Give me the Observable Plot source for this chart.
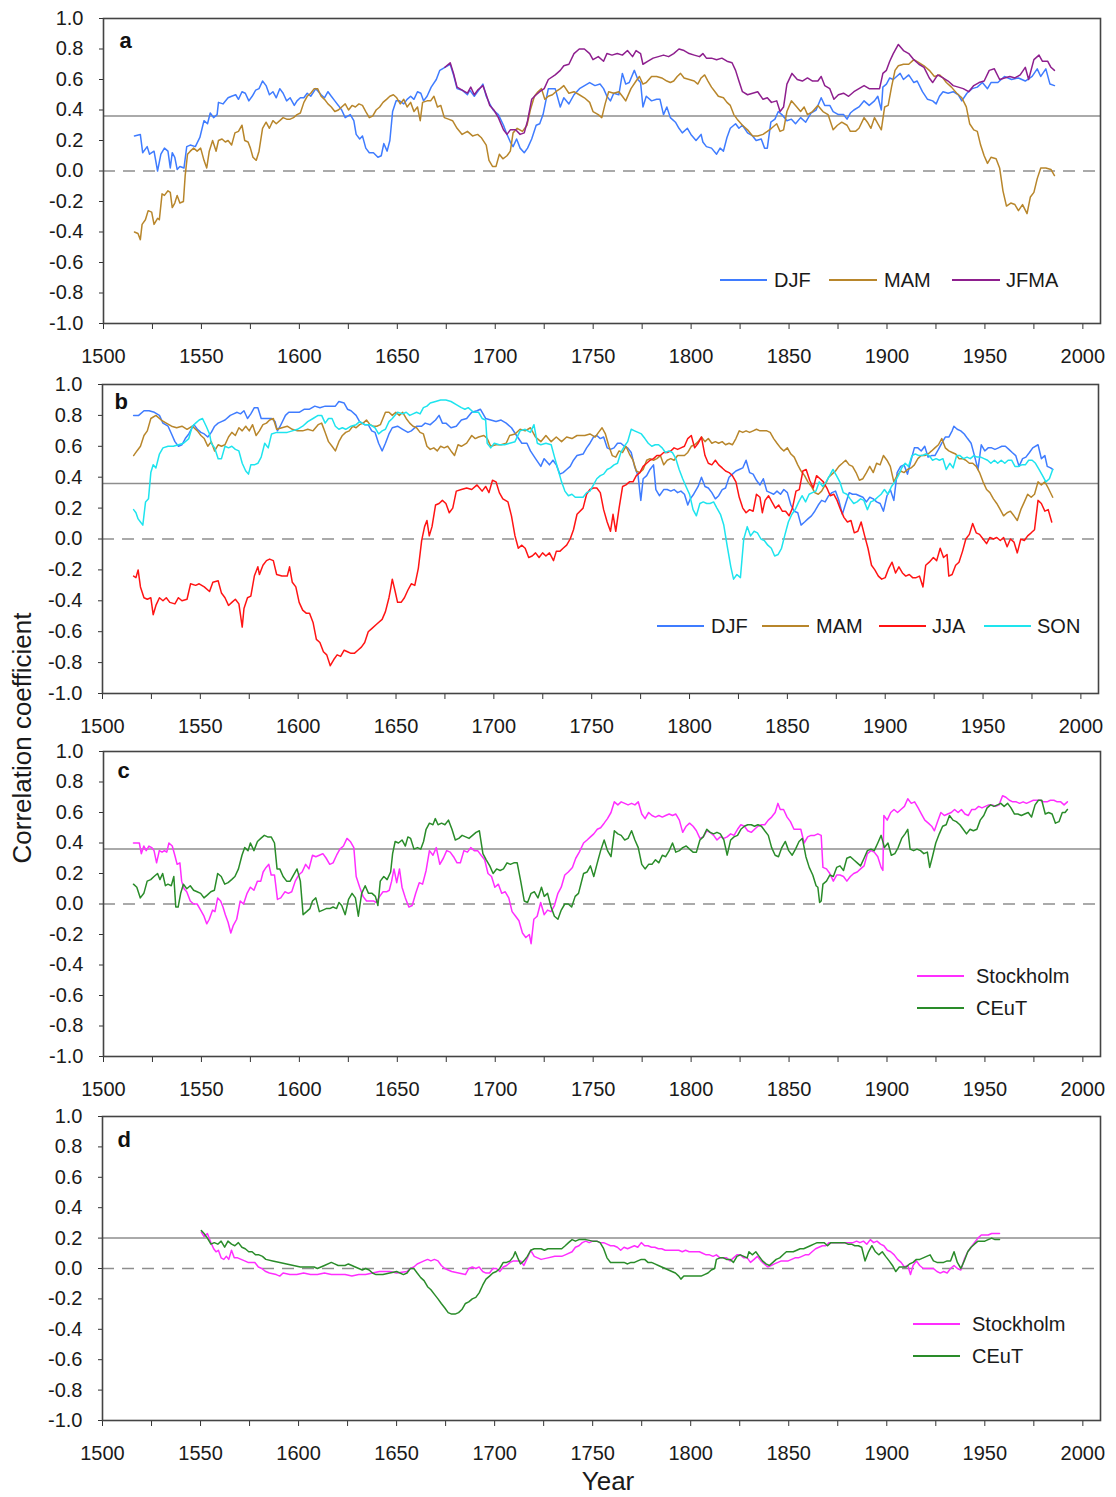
<!DOCTYPE html>
<html><head><meta charset="utf-8">
<script src="https://cdn.jsdelivr.net/npm/d3@7"></script>
<script src="https://cdn.jsdelivr.net/npm/@observablehq/plot@0.6"></script>
<style>
body{margin:0;background:#fff;font-family:"Liberation Sans",Arial,sans-serif;}
#wrap{position:relative;width:1116px;height:1497px;overflow:hidden;background:#fff;}
#wrap svg{position:absolute;left:0;overflow:visible;}
.leg{position:absolute;font-size:20px;line-height:20px;color:#1a1a1a;white-space:nowrap;}
.sw{position:absolute;height:2px;}
.ttl{position:absolute;font-size:26px;line-height:26px;color:#1a1a1a;white-space:nowrap;}
</style></head>
<body><div id="wrap"></div>
<script>
// ---------- tick values ----------
const xTicks = [1500,1525,1550,1575,1600,1625,1650,1675,1700,1725,1750,1775,1800,1825,1850,1875,1900,1925,1950,1975,2000];
const xLabels = [1500,1550,1600,1650,1700,1750,1800,1850,1900,1950,2000];
const yTicks = [-1,-0.8,-0.6,-0.4,-0.2,0,0.2,0.4,0.6,0.8,1];
const thresholds = [0.36, 0.36, 0.36, 0.2];

// ---------- panel a ----------
const djfA = [[1515.8,0.23],[1518.8,0.24],[1520,0.12],[1522.3,0.16],[1523.5,0.11],[1525.8,0.13],[1527.6,0.0],[1529.3,0.11],[1531.1,0.15],[1532.9,0.13],[1534.1,0.02],[1535.1,0.12],[1536.4,0.09],[1537.6,0.01],[1539,0.03],[1541.1,0.02],[1542.5,0.16],[1544.3,0.17],[1546.9,0.16],[1549.2,0.22],[1551.3,0.33],[1553.1,0.31],[1554.5,0.38],[1556.2,0.35],[1558,0.37],[1558.7,0.45],[1561,0.44],[1563.6,0.48],[1565.4,0.49],[1567.5,0.50],[1568.9,0.47],[1570.7,0.52],[1572.4,0.51],[1574.2,0.46],[1575.9,0.49],[1577.7,0.53],[1579.4,0.54],[1581.2,0.59],[1583,0.56],[1584.7,0.50],[1586.5,0.52],[1588.2,0.48],[1590,0.54],[1591.7,0.51],[1593.5,0.46],[1595.3,0.48],[1597.4,0.43],[1598.8,0.46],[1600.5,0.48],[1602.3,0.48],[1604,0.51],[1605.8,0.49],[1608.4,0.54],[1611.1,0.50],[1612.8,0.48],[1614.6,0.52],[1616.3,0.49],[1618.1,0.46],[1619.9,0.43],[1621.6,0.40],[1623.4,0.35],[1626,0.37],[1627.8,0.33],[1629,0.24],[1630.8,0.21],[1632.2,0.23],[1633.9,0.15],[1635.7,0.12],[1637.8,0.12],[1640.1,0.09],[1641.8,0.10],[1643.1,0.18],[1644.8,0.13],[1646.2,0.20],[1647.6,0.39],[1649.4,0.46],[1651.1,0.46],[1653.3,0.44],[1655,0.47],[1656.8,0.49],[1658.5,0.47],[1660.3,0.52],[1662,0.51],[1663.4,0.46],[1665.2,0.49],[1667.3,0.55],[1669.9,0.60],[1671.7,0.66],[1674.3,0.68],[1677,0.70],[1678.7,0.63],[1680.5,0.54],[1683.1,0.53],[1685.8,0.50],[1687,0.53],[1689.3,0.49],[1691.6,0.53],[1693.7,0.57],[1695.4,0.49],[1697.2,0.44],[1698.9,0.40],[1701.6,0.37],[1704.2,0.30],[1706,0.24],[1707.7,0.19],[1709.1,0.16],[1710.9,0.21],[1712.7,0.15],[1714.8,0.12],[1716.5,0.15],[1718.6,0.21],[1720.9,0.30],[1722.7,0.31],[1724.4,0.37],[1727.1,0.54],[1730.6,0.54],[1733.2,0.42],[1735,0.48],[1737.6,0.44],[1740.2,0.50],[1743,0.54],[1745.6,0.56],[1748.2,0.58],[1750.9,0.56],[1753.5,0.57],[1755.3,0.54],[1757,0.49],[1758.8,0.46],[1760.5,0.51],[1763.1,0.50],[1764.9,0.64],[1766.6,0.57],[1768.4,0.58],[1771,0.66],[1772.8,0.60],[1774.2,0.58],[1775.4,0.42],[1777.1,0.49],[1779.8,0.46],[1782.4,0.47],[1784.1,0.47],[1785.9,0.37],[1787.6,0.42],[1789.4,0.35],[1792,0.32],[1793.8,0.28],[1795.5,0.25],[1798.1,0.28],[1799.9,0.24],[1802.5,0.20],[1805.1,0.24],[1806,0.19],[1807.8,0.16],[1810.4,0.15],[1813,0.11],[1814.8,0.15],[1816.5,0.13],[1818.3,0.22],[1820,0.28],[1822.7,0.31],[1824.4,0.28],[1826.2,0.30],[1828.8,0.25],[1831.4,0.23],[1833.2,0.20],[1835.8,0.21],[1837.5,0.15],[1838.9,0.15],[1840.7,0.32],[1842.8,0.34],[1844.5,0.39],[1846.3,0.37],[1848.9,0.33],[1851.2,0.34],[1853.3,0.31],[1855.9,0.35],[1858.5,0.32],[1861.2,0.38],[1863.8,0.40],[1866.4,0.48],[1868.2,0.43],[1870.8,0.43],[1872.5,0.39],[1875.2,0.37],[1877.8,0.37],[1879.6,0.34],[1881.3,0.38],[1883.1,0.40],[1885.7,0.42],[1888.3,0.46],[1890.9,0.43],[1893.6,0.46],[1895.3,0.49],[1897.1,0.40],[1897.9,0.55],[1899.7,0.57],[1901.4,0.61],[1903.2,0.60],[1904.9,0.62],[1906.7,0.64],[1908.4,0.60],[1911.1,0.63],[1913.7,0.58],[1915.4,0.59],[1918.1,0.52],[1920.7,0.47],[1923.3,0.46],[1925.1,0.44],[1926.8,0.49],[1928.6,0.52],[1931.2,0.51],[1933.8,0.52],[1936.4,0.50],[1938.2,0.46],[1940.8,0.51],[1943.5,0.54],[1946.1,0.55],[1948.7,0.58],[1951.3,0.54],[1953.1,0.58],[1956.6,0.58],[1960,0.62],[1963.6,0.60],[1967.1,0.61],[1970.6,0.59],[1974.1,0.62],[1976.7,0.67],[1978.5,0.62],[1981.1,0.67],[1983.2,0.57],[1985.5,0.56]];

const mamA = [[1515.8,-0.40],[1517.6,-0.41],[1518.8,-0.45],[1519.7,-0.35],[1521.4,-0.32],[1522.8,-0.26],[1524.6,-0.27],[1525.8,-0.35],[1527.6,-0.31],[1528.5,-0.32],[1529.9,-0.15],[1531.1,-0.16],[1532.9,-0.13],[1534.1,-0.14],[1535.1,-0.24],[1536.4,-0.21],[1537.6,-0.16],[1539,-0.21],[1540.8,-0.20],[1541.7,-0.03],[1542.9,0.11],[1544.3,0.13],[1546,0.15],[1547.8,0.13],[1549.6,0.15],[1551.3,0.07],[1552.7,0.02],[1554,0.13],[1555.7,0.20],[1557.5,0.13],[1558.7,0.20],[1560.5,0.21],[1562.2,0.19],[1563.6,0.20],[1565.4,0.17],[1567.1,0.25],[1568.9,0.26],[1570.7,0.30],[1572.1,0.20],[1573.8,0.19],[1575,0.15],[1576.3,0.09],[1578,0.07],[1579.4,0.13],[1581.2,0.28],[1583,0.32],[1584.7,0.28],[1586.5,0.33],[1588.2,0.31],[1590,0.33],[1591.7,0.35],[1593.5,0.34],[1595.3,0.34],[1597,0.35],[1598.8,0.37],[1600.5,0.38],[1602.3,0.45],[1604,0.49],[1605.8,0.51],[1607.6,0.54],[1609.3,0.54],[1611.1,0.49],[1612.8,0.47],[1614.6,0.44],[1616.3,0.42],[1618.1,0.39],[1619.9,0.40],[1621.6,0.42],[1623.4,0.44],[1625.1,0.40],[1626.9,0.43],[1628.6,0.42],[1630.4,0.44],[1632.2,0.43],[1633.9,0.39],[1635.7,0.35],[1637.4,0.36],[1639.2,0.40],[1641,0.42],[1642.7,0.45],[1644.5,0.47],[1646.2,0.49],[1648,0.50],[1649.7,0.48],[1651.5,0.44],[1653.3,0.47],[1655,0.42],[1656.8,0.45],[1658.5,0.39],[1660.3,0.42],[1661.7,0.33],[1662.9,0.45],[1665.2,0.46],[1667,0.46],[1668.7,0.49],[1670.5,0.42],[1672.2,0.43],[1674,0.35],[1676.1,0.34],[1678.2,0.33],[1680.5,0.28],[1683.1,0.24],[1685.8,0.26],[1688.4,0.23],[1691,0.24],[1692.8,0.22],[1695.4,0.17],[1696.8,0.07],[1698.6,0.03],[1700.4,0.03],[1702.1,0.11],[1703.9,0.08],[1706,0.10],[1707.7,0.13],[1709.1,0.25],[1711.2,0.28],[1713.9,0.26],[1716.2,0.30],[1717.9,0.40],[1720,0.49],[1721.8,0.52],[1723.6,0.54],[1725.3,0.47],[1727.1,0.49],[1729.2,0.50],[1730.9,0.52],[1733.2,0.54],[1735,0.56],[1737.6,0.51],[1740.2,0.52],[1742.9,0.50],[1745.5,0.48],[1748.2,0.45],[1749.9,0.39],[1752.6,0.37],[1754.4,0.35],[1756.1,0.44],[1757.9,0.52],[1760.5,0.51],[1763.1,0.52],[1764.9,0.49],[1766.6,0.46],[1769.3,0.54],[1771.9,0.59],[1773.6,0.62],[1775.4,0.57],[1777.1,0.58],[1779.8,0.62],[1782.4,0.62],[1785,0.61],[1787.6,0.59],[1789.4,0.58],[1791.1,0.59],[1792.9,0.62],[1794.6,0.64],[1796.4,0.61],[1799,0.60],[1801.6,0.59],[1803.4,0.57],[1805.1,0.61],[1806.9,0.63],[1808.6,0.59],[1810.4,0.55],[1812.2,0.52],[1813.9,0.49],[1816.5,0.48],[1818.3,0.45],[1820,0.43],[1821.8,0.37],[1823.5,0.34],[1826.2,0.30],[1828.8,0.27],[1831.4,0.23],[1834,0.23],[1836.7,0.24],[1838.9,0.26],[1841,0.28],[1843.7,0.31],[1845.4,0.26],[1847.2,0.27],[1848.9,0.39],[1851.2,0.46],[1853.3,0.43],[1855.9,0.39],[1857.7,0.42],[1859.4,0.37],[1862,0.39],[1864.7,0.43],[1867.3,0.39],[1869.9,0.37],[1872.5,0.27],[1874.7,0.30],[1876.9,0.32],[1879.6,0.30],[1881.3,0.26],[1883.9,0.26],[1885.7,0.28],[1888.3,0.35],[1890,0.32],[1891.8,0.28],[1893.6,0.35],[1895.3,0.31],[1897.1,0.27],[1898.8,0.42],[1900.6,0.43],[1902.3,0.55],[1904.1,0.66],[1905.8,0.69],[1908.4,0.70],[1911.1,0.70],[1913.7,0.73],[1916.3,0.71],[1918.9,0.69],[1921.6,0.66],[1924.2,0.62],[1926.8,0.63],[1928.6,0.61],[1930.3,0.58],[1932.9,0.55],[1935.6,0.51],[1938.2,0.48],[1940.5,0.42],[1942.2,0.31],[1944.3,0.27],[1946.1,0.26],[1947.8,0.17],[1949.6,0.10],[1951.3,0.05],[1953.1,0.09],[1955.7,0.08],[1957.5,0.02],[1959.2,-0.13],[1961,-0.23],[1963.2,-0.21],[1965.3,-0.22],[1967.1,-0.26],[1969.2,-0.22],[1971.5,-0.28],[1973.2,-0.17],[1975,-0.14],[1976.7,-0.05],[1978.5,0.02],[1981.1,0.02],[1983.7,0.01],[1985.5,-0.03]];

const jfmaA = [[1674.3,0.68],[1677,0.71],[1678.7,0.64],[1680.5,0.55],[1683.1,0.53],[1685.8,0.51],[1687.5,0.55],[1689.3,0.50],[1691,0.53],[1693.7,0.56],[1695.4,0.50],[1697.2,0.43],[1699.3,0.40],[1701.6,0.35],[1704.2,0.27],[1706,0.24],[1707.7,0.27],[1710.4,0.27],[1712.7,0.24],[1714.8,0.25],[1716.5,0.33],[1718.6,0.47],[1720.9,0.50],[1722.7,0.52],[1725,0.54],[1727.1,0.60],[1730.6,0.63],[1733.2,0.66],[1735,0.69],[1737.6,0.70],[1740.2,0.77],[1742.9,0.80],[1745.5,0.80],[1748.2,0.77],[1749.9,0.73],[1752.6,0.75],[1755.3,0.72],[1757,0.77],[1759.6,0.76],[1762.3,0.77],[1764.9,0.76],[1767.5,0.79],[1770.1,0.75],[1771.9,0.79],[1774.2,0.77],[1775.4,0.70],[1778,0.72],[1780.6,0.74],[1783.3,0.75],[1785.9,0.76],[1788.5,0.75],[1791.1,0.77],[1793.8,0.80],[1796.4,0.79],[1799,0.77],[1801.6,0.76],[1804.3,0.75],[1806,0.77],[1807.8,0.74],[1810.4,0.74],[1813,0.73],[1815.7,0.74],[1818.3,0.72],[1820.9,0.71],[1822.7,0.66],[1824.4,0.59],[1826.2,0.52],[1828.8,0.50],[1831.4,0.51],[1834,0.52],[1836.7,0.47],[1838.9,0.48],[1841,0.45],[1843.7,0.46],[1845.4,0.39],[1847.2,0.42],[1848.9,0.57],[1851.5,0.64],[1854.2,0.60],[1856.8,0.59],[1859.4,0.61],[1862,0.59],[1864.7,0.59],[1866.4,0.62],[1868.2,0.56],[1870.8,0.54],[1872.9,0.47],[1875.2,0.50],[1877.8,0.51],[1880.4,0.49],[1883.1,0.52],[1885.7,0.54],[1888.3,0.56],[1890.9,0.54],[1893.6,0.54],[1896.2,0.54],[1897.9,0.64],[1899.7,0.66],[1901.4,0.72],[1903.2,0.77],[1905.8,0.83],[1908.4,0.79],[1911.1,0.77],[1913.7,0.73],[1916.3,0.70],[1918.9,0.68],[1921.6,0.61],[1923.3,0.58],[1925.9,0.63],[1928.6,0.61],[1931.2,0.59],[1933.8,0.56],[1936.4,0.55],[1938.9,0.54],[1941.7,0.52],[1944.3,0.56],[1947,0.58],[1949.6,0.59],[1952.2,0.66],[1954.8,0.67],[1957.5,0.60],[1960,0.61],[1962.7,0.62],[1965.3,0.61],[1968,0.63],[1970.6,0.68],[1972.3,0.60],[1975,0.73],[1977.6,0.76],[1979.3,0.72],[1982,0.72],[1983.7,0.68],[1985.5,0.66]];

// ---------- panel b ----------
const djfB = [[1515.9,0.80],[1518.5,0.80],[1521.2,0.83],[1523.8,0.83],[1526.5,0.82],[1529.1,0.80],[1530.9,0.75],[1533.5,0.73],[1535.3,0.68],[1537,0.63],[1538.8,0.60],[1540.6,0.61],[1542.3,0.65],[1544.1,0.68],[1546.7,0.74],[1548.5,0.71],[1550.3,0.69],[1552,0.68],[1553.8,0.66],[1555.6,0.69],[1557.3,0.73],[1559.1,0.75],[1560.8,0.76],[1562.6,0.77],[1565.3,0.80],[1567,0.81],[1568.8,0.82],[1570.5,0.81],[1572.3,0.83],[1574.1,0.78],[1575.8,0.81],[1577.6,0.85],[1579.4,0.85],[1581.1,0.78],[1583.8,0.78],[1586.4,0.78],[1588.2,0.76],[1589.4,0.70],[1590.8,0.73],[1593.5,0.80],[1595.2,0.82],[1597.9,0.82],[1600.5,0.82],[1603.2,0.84],[1605.8,0.84],[1608.5,0.86],[1611.1,0.85],[1613.8,0.86],[1616.4,0.86],[1619,0.86],[1620.8,0.89],[1623.5,0.88],[1625.2,0.84],[1627,0.83],[1629.6,0.80],[1631.4,0.76],[1634,0.74],[1635.8,0.74],[1637.6,0.70],[1639.3,0.69],[1641.1,0.62],[1642.9,0.57],[1644.6,0.62],[1646.4,0.68],[1648.1,0.72],[1650.8,0.73],[1653.4,0.71],[1656.1,0.69],[1657.8,0.70],[1660.5,0.73],[1663.1,0.73],[1664.9,0.75],[1667.5,0.74],[1670.2,0.77],[1672,0.80],[1673.7,0.75],[1675.5,0.75],[1678.1,0.72],[1680.8,0.73],[1683.4,0.77],[1686.1,0.78],[1688.7,0.82],[1691.4,0.83],[1693.1,0.84],[1695.8,0.78],[1698.4,0.77],[1701.1,0.76],[1703.7,0.77],[1706.3,0.75],[1709,0.72],[1711.6,0.67],[1714.3,0.62],[1716.9,0.62],[1718.7,0.57],[1721.3,0.52],[1724,0.47],[1725.7,0.52],[1728.4,0.48],[1730.2,0.51],[1731.9,0.48],[1733.7,0.42],[1735.4,0.43],[1737.2,0.45],[1739,0.47],[1740.7,0.51],[1742.5,0.54],[1745.6,0.55],[1747.4,0.59],[1749.1,0.62],[1750.9,0.66],[1752.6,0.67],[1754.4,0.65],[1756.1,0.66],[1757.9,0.59],[1759.6,0.58],[1761.4,0.59],[1763.2,0.62],[1764.9,0.62],[1766.7,0.60],[1768.4,0.59],[1770.2,0.56],[1771.9,0.47],[1773.7,0.41],[1775.1,0.25],[1776.3,0.39],[1778.1,0.41],[1779.8,0.45],[1781.6,0.48],[1782.8,0.32],[1784.6,0.28],[1786.8,0.32],[1788.6,0.32],[1790.4,0.31],[1792.1,0.32],[1793.9,0.30],[1795.6,0.31],[1797.4,0.29],[1799.1,0.22],[1800.4,0.26],[1802.1,0.29],[1804.4,0.34],[1806.1,0.40],[1807.9,0.34],[1809.6,0.33],[1811.4,0.30],[1813.2,0.26],[1814.9,0.28],[1816.7,0.32],[1818.4,0.33],[1820.2,0.40],[1821.9,0.42],[1823.7,0.44],[1825.4,0.45],[1827.2,0.46],[1828.9,0.51],[1830.7,0.43],[1832.5,0.42],[1834.2,0.38],[1836,0.35],[1837.7,0.39],[1839.5,0.31],[1841.2,0.30],[1843,0.29],[1844.7,0.31],[1846.5,0.29],[1848.2,0.32],[1850,0.30],[1851.8,0.22],[1853.5,0.18],[1855.3,0.17],[1857,0.09],[1858.8,0.11],[1860.5,0.13],[1862.3,0.15],[1864,0.18],[1865.8,0.22],[1867.5,0.25],[1869.3,0.24],[1871.1,0.28],[1872.8,0.30],[1874.6,0.31],[1876.3,0.25],[1878.1,0.16],[1879.8,0.23],[1881.6,0.30],[1883.3,0.29],[1885.1,0.29],[1886.8,0.28],[1888.6,0.27],[1890.4,0.24],[1892.1,0.27],[1893.9,0.26],[1895.6,0.24],[1897.4,0.23],[1899.1,0.18],[1900.9,0.28],[1902.6,0.32],[1904.4,0.25],[1906.1,0.43],[1907.9,0.47],[1909.6,0.48],[1911.4,0.42],[1913.2,0.51],[1914.9,0.59],[1916.7,0.59],[1918.4,0.57],[1920.2,0.60],[1921.9,0.53],[1923.7,0.54],[1925.4,0.54],[1927.2,0.58],[1928.9,0.62],[1930.7,0.66],[1932.5,0.66],[1934.2,0.70],[1935.1,0.73],[1936.8,0.71],[1938.6,0.70],[1940.4,0.68],[1942.1,0.65],[1943.9,0.62],[1945.6,0.54],[1947.4,0.45],[1949.1,0.61],[1950.9,0.57],[1952.6,0.59],[1954.4,0.59],[1956.1,0.58],[1957.9,0.59],[1959.6,0.60],[1961.4,0.60],[1963.2,0.58],[1964.9,0.56],[1966.7,0.54],[1968.4,0.47],[1970.2,0.52],[1971.9,0.53],[1973.7,0.56],[1975.4,0.59],[1978.1,0.61],[1979.8,0.52],[1981.6,0.54],[1982.8,0.47],[1984.5,0.46],[1985.6,0.45]];

const mamB = [[1515.9,0.54],[1517.6,0.57],[1519.4,0.60],[1521.2,0.67],[1522.9,0.70],[1524.7,0.78],[1527.3,0.80],[1530,0.77],[1532.6,0.75],[1535.3,0.73],[1537.9,0.72],[1540.6,0.73],[1543.2,0.71],[1545.9,0.73],[1548.5,0.70],[1550.3,0.67],[1552,0.65],[1553.8,0.60],[1555.6,0.63],[1557.3,0.57],[1559.1,0.61],[1560.8,0.60],[1562.6,0.61],[1564.4,0.66],[1566.1,0.69],[1567.9,0.67],[1569.7,0.72],[1571.4,0.70],[1573.2,0.73],[1575,0.70],[1576.7,0.74],[1578.5,0.67],[1580.2,0.70],[1582,0.74],[1583.8,0.75],[1585.4,0.77],[1587.3,0.78],[1589,0.71],[1591.7,0.72],[1594.4,0.73],[1597,0.71],[1599.6,0.70],[1602.3,0.70],[1604.9,0.71],[1607.6,0.70],[1610.2,0.74],[1612,0.75],[1613.8,0.69],[1615.5,0.63],[1617.3,0.60],[1619,0.57],[1620.8,0.63],[1622.6,0.67],[1624.3,0.69],[1626.1,0.70],[1627.9,0.73],[1629.6,0.72],[1631.4,0.74],[1633.2,0.75],[1634.9,0.77],[1636.7,0.74],[1638.4,0.73],[1640.2,0.73],[1642,0.74],[1644.6,0.82],[1646.4,0.82],[1648.1,0.80],[1649.9,0.82],[1651.7,0.80],[1653.4,0.82],[1655.2,0.78],[1657,0.75],[1658.7,0.73],[1660.5,0.72],[1662.3,0.69],[1664,0.68],[1665.8,0.60],[1667.5,0.58],[1669.3,0.59],[1671.1,0.57],[1672.8,0.60],[1674.6,0.59],[1676.4,0.60],[1678.1,0.57],[1679.9,0.54],[1681.7,0.61],[1683.4,0.60],[1686.1,0.62],[1688.7,0.67],[1690.5,0.65],[1692.2,0.66],[1694.9,0.67],[1696.6,0.65],[1698.4,0.60],[1701.1,0.61],[1703.7,0.61],[1706.3,0.62],[1708.1,0.67],[1710.8,0.68],[1713.4,0.71],[1716,0.70],[1718.7,0.72],[1721.3,0.66],[1724,0.63],[1726.6,0.67],[1729.3,0.63],[1731.9,0.66],[1734.6,0.63],[1737.2,0.66],[1739.9,0.65],[1742.5,0.67],[1746.5,0.67],[1749.1,0.68],[1751.8,0.66],[1753.5,0.69],[1755.3,0.72],[1757,0.68],[1758.8,0.60],[1760.5,0.54],[1762.3,0.53],[1764,0.57],[1765.8,0.56],[1767.5,0.60],[1769.3,0.55],[1771.1,0.51],[1772.8,0.44],[1774.6,0.43],[1776.3,0.45],[1778.1,0.51],[1779.8,0.52],[1781.6,0.51],[1783.3,0.52],[1785.1,0.54],[1786.8,0.48],[1788.6,0.51],[1790.4,0.52],[1792.1,0.51],[1793.9,0.54],[1795.6,0.54],[1797.4,0.54],[1799.1,0.56],[1800.9,0.60],[1802.6,0.61],[1804.4,0.63],[1806.1,0.66],[1807.9,0.63],[1809.6,0.65],[1811.4,0.62],[1813.2,0.63],[1814.9,0.62],[1816.7,0.63],[1818.4,0.61],[1820.2,0.62],[1821.9,0.61],[1823.7,0.65],[1825.4,0.70],[1827.2,0.69],[1828.9,0.70],[1830.7,0.69],[1832.5,0.70],[1834.2,0.71],[1836,0.70],[1837.7,0.70],[1839.5,0.70],[1841.2,0.69],[1843,0.65],[1844.7,0.62],[1846.5,0.59],[1848.2,0.57],[1850,0.59],[1851.8,0.55],[1853.5,0.53],[1855.3,0.48],[1857,0.44],[1858.8,0.41],[1860.5,0.37],[1862.3,0.34],[1864,0.30],[1865.8,0.29],[1867.5,0.31],[1869.3,0.35],[1871.1,0.40],[1872.8,0.42],[1874.6,0.44],[1876.3,0.47],[1878.1,0.49],[1879.8,0.51],[1881.6,0.48],[1883.3,0.47],[1885.1,0.43],[1886.8,0.38],[1888.6,0.39],[1890.4,0.43],[1892.1,0.47],[1893.9,0.43],[1895.6,0.49],[1897.4,0.48],[1899.1,0.54],[1900.9,0.51],[1902.6,0.47],[1904.4,0.37],[1906.1,0.41],[1907.9,0.44],[1909.6,0.43],[1911.4,0.45],[1913.2,0.46],[1914.9,0.48],[1916.7,0.52],[1918.4,0.54],[1920.2,0.54],[1921.9,0.55],[1923.7,0.57],[1925.4,0.59],[1927.2,0.61],[1928.9,0.65],[1930.7,0.59],[1932.5,0.57],[1934.2,0.56],[1936,0.55],[1937.7,0.52],[1939.5,0.52],[1941.2,0.51],[1943,0.49],[1944.7,0.49],[1946.5,0.47],[1948.2,0.43],[1950,0.37],[1951.8,0.32],[1953.5,0.30],[1955.3,0.26],[1957,0.23],[1958.8,0.19],[1960.5,0.15],[1962.3,0.17],[1964,0.18],[1965.8,0.15],[1967.5,0.12],[1969.3,0.19],[1971.1,0.24],[1972.8,0.29],[1974.6,0.27],[1976.3,0.29],[1978.1,0.37],[1979.8,0.35],[1981.6,0.37],[1983.3,0.33],[1985.6,0.27]];

const jjaB = [[1515.9,-0.24],[1517.1,-0.25],[1518.2,-0.20],[1519.4,-0.31],[1521.2,-0.38],[1522.9,-0.39],[1524.7,-0.38],[1525.9,-0.49],[1527.3,-0.43],[1529.1,-0.38],[1530.9,-0.40],[1532.6,-0.38],[1534.4,-0.41],[1537,-0.42],[1538.8,-0.38],[1540.6,-0.40],[1543.2,-0.39],[1545,-0.29],[1547.6,-0.30],[1549.4,-0.29],[1552,-0.31],[1554.7,-0.34],[1556.4,-0.28],[1559.1,-0.27],[1560.8,-0.35],[1562.6,-0.38],[1564.4,-0.43],[1566.1,-0.41],[1567.9,-0.39],[1569.7,-0.42],[1570.5,-0.49],[1571.4,-0.57],[1572.3,-0.45],[1574.1,-0.38],[1575.8,-0.37],[1577.6,-0.24],[1579.4,-0.18],[1580.2,-0.23],[1582,-0.17],[1583.8,-0.14],[1585.4,-0.13],[1587.3,-0.14],[1589,-0.23],[1591.7,-0.24],[1594.4,-0.24],[1595.6,-0.18],[1597,-0.28],[1598.8,-0.31],[1600.5,-0.41],[1602.3,-0.46],[1604.1,-0.48],[1605.8,-0.48],[1607.6,-0.54],[1609.3,-0.65],[1611.1,-0.67],[1612.9,-0.73],[1614.6,-0.75],[1616.4,-0.82],[1618.2,-0.78],[1619.9,-0.75],[1621.7,-0.76],[1623.5,-0.72],[1625.2,-0.73],[1627,-0.74],[1628.7,-0.74],[1630.5,-0.72],[1632.3,-0.70],[1634,-0.67],[1635.8,-0.60],[1637.6,-0.58],[1640.2,-0.55],[1642.9,-0.52],[1644.6,-0.47],[1646.4,-0.38],[1647.3,-0.32],[1648.1,-0.26],[1649.4,-0.33],[1650.8,-0.41],[1652.6,-0.41],[1654.3,-0.38],[1656.1,-0.33],[1657.8,-0.29],[1659.6,-0.30],[1661.4,-0.19],[1663.1,-0.01],[1664.6,0.08],[1665.8,0.12],[1667,0.02],[1668.4,0.08],[1670.2,0.22],[1672,0.23],[1673.7,0.25],[1675.5,0.23],[1677.2,0.17],[1679,0.20],[1680.8,0.31],[1683.4,0.32],[1686.1,0.33],[1688.7,0.32],[1691.4,0.35],[1694,0.31],[1695.8,0.34],[1697.5,0.30],[1699.3,0.38],[1701.1,0.37],[1702.8,0.30],[1704.6,0.26],[1707.2,0.24],[1709,0.15],[1710.8,0.02],[1712.5,-0.06],[1714.3,-0.04],[1716,-0.06],[1717.8,-0.12],[1719.6,-0.11],[1721.3,-0.09],[1723.1,-0.12],[1724.9,-0.09],[1726.6,-0.11],[1728.4,-0.09],[1730.5,-0.14],[1731.9,-0.08],[1733.7,-0.08],[1735.4,-0.06],[1737.2,-0.04],[1739,0.00],[1740.7,0.06],[1742.5,0.16],[1745.6,0.20],[1747.4,0.29],[1749.1,0.32],[1750.9,0.33],[1752.6,0.33],[1754.4,0.30],[1756.1,0.19],[1757.9,0.11],[1759.6,0.05],[1760.9,0.16],[1762.3,0.05],[1764,0.20],[1765.8,0.34],[1767.5,0.35],[1769.3,0.37],[1771.1,0.37],[1772.8,0.41],[1774.6,0.43],[1776.3,0.47],[1778.1,0.49],[1779.8,0.51],[1781.6,0.52],[1783.3,0.54],[1785.1,0.54],[1786.8,0.56],[1788.6,0.56],[1790.4,0.57],[1792.1,0.59],[1793.9,0.58],[1795.6,0.59],[1797.4,0.60],[1799.1,0.65],[1800.9,0.67],[1802.6,0.59],[1804.4,0.62],[1806.1,0.66],[1807.9,0.54],[1809.6,0.49],[1811.4,0.48],[1813.2,0.51],[1814.9,0.48],[1816.7,0.46],[1818.4,0.44],[1820.2,0.43],[1821.9,0.41],[1823.7,0.37],[1825.4,0.27],[1827.2,0.20],[1828.9,0.17],[1830.7,0.19],[1832.5,0.18],[1834.2,0.29],[1836,0.27],[1837.2,0.17],[1838.6,0.25],[1840.4,0.28],[1842.1,0.24],[1843.9,0.20],[1845.6,0.22],[1847.4,0.18],[1849.1,0.18],[1850.9,0.15],[1852.6,0.20],[1854.4,0.31],[1856.1,0.32],[1857.9,0.44],[1859.6,0.45],[1861.4,0.38],[1863.2,0.33],[1864.9,0.41],[1866.7,0.39],[1868.4,0.37],[1870.2,0.33],[1871.9,0.28],[1873.7,0.29],[1875.4,0.25],[1877.2,0.19],[1878.9,0.14],[1880.7,0.11],[1882.5,0.12],[1884.2,0.04],[1886,0.05],[1887.7,0.11],[1889.5,0.02],[1891.2,-0.06],[1893,-0.17],[1894.7,-0.20],[1896.5,-0.24],[1898.2,-0.26],[1900,-0.25],[1901.8,-0.19],[1903.5,-0.15],[1905.3,-0.22],[1907,-0.18],[1908.8,-0.22],[1910.5,-0.24],[1912.3,-0.23],[1914,-0.25],[1915.8,-0.25],[1917.5,-0.24],[1919.3,-0.31],[1920.7,-0.17],[1922.5,-0.15],[1924.6,-0.12],[1926.3,-0.14],[1928.1,-0.06],[1929.8,-0.12],[1931.6,-0.10],[1932.5,-0.24],[1934.2,-0.23],[1936,-0.17],[1937.7,-0.15],[1939.5,-0.08],[1941.2,0.00],[1943,0.03],[1944.7,0.10],[1946.5,0.04],[1948.2,0.03],[1950,0.00],[1951.8,-0.03],[1953.5,0.01],[1955.3,0.00],[1957,0.01],[1958.8,-0.01],[1960.5,0.01],[1962.3,-0.05],[1964,0.00],[1965.8,-0.02],[1967.5,-0.09],[1969.3,0.00],[1971.1,-0.01],[1972.8,0.02],[1974.6,0.04],[1976.3,0.06],[1978.1,0.25],[1979.8,0.23],[1981.6,0.18],[1983.3,0.19],[1985.1,0.11]];

const sonB = [[1515.9,0.19],[1517.1,0.17],[1518.2,0.13],[1519.4,0.11],[1520.6,0.09],[1522,0.24],[1523.5,0.26],[1524.7,0.43],[1525.9,0.48],[1527.3,0.46],[1529.1,0.55],[1530.9,0.59],[1533.5,0.60],[1536.2,0.60],[1538.8,0.61],[1541.4,0.62],[1544.1,0.65],[1545.9,0.73],[1547.6,0.75],[1549.4,0.77],[1551.1,0.78],[1553,0.73],[1554.7,0.68],[1555.6,0.62],[1557.3,0.59],[1559.1,0.52],[1560.8,0.52],[1562.6,0.60],[1564.4,0.59],[1566.1,0.60],[1567.9,0.58],[1569.7,0.57],[1571.4,0.49],[1573.2,0.44],[1574.6,0.42],[1575.8,0.48],[1577.6,0.48],[1579.4,0.49],[1581.1,0.53],[1582.9,0.62],[1584.7,0.59],[1586.4,0.68],[1589,0.69],[1591.7,0.69],[1594.4,0.69],[1597,0.70],[1599.6,0.71],[1602.3,0.73],[1604.9,0.76],[1607.6,0.78],[1610.2,0.80],[1612,0.80],[1613.8,0.75],[1615.5,0.78],[1617.3,0.78],[1619,0.73],[1620.8,0.71],[1622.6,0.72],[1624.3,0.71],[1627,0.73],[1629.6,0.74],[1631.4,0.76],[1634,0.74],[1636.7,0.74],[1639.3,0.72],[1641.1,0.68],[1642.9,0.70],[1644.6,0.71],[1646.4,0.76],[1648.1,0.78],[1650.8,0.82],[1653.4,0.81],[1655.2,0.82],[1657,0.80],[1658.7,0.81],[1660.5,0.82],[1662.3,0.81],[1664,0.85],[1665.8,0.86],[1667.5,0.88],[1670.2,0.89],[1672.8,0.90],[1675.5,0.90],[1678.1,0.89],[1680.8,0.87],[1683.4,0.85],[1685.2,0.84],[1686.9,0.85],[1689.6,0.82],[1692.2,0.82],[1694,0.78],[1695.8,0.77],[1696.6,0.62],[1698.4,0.59],[1700.2,0.62],[1702.8,0.61],[1705.5,0.61],[1708.1,0.62],[1710.8,0.63],[1713.4,0.70],[1716,0.71],[1718.7,0.69],[1720.5,0.74],[1722.2,0.62],[1724,0.61],[1726.6,0.62],[1729.3,0.61],[1731,0.53],[1732.8,0.45],[1734.6,0.37],[1736.3,0.31],[1738.1,0.28],[1739.9,0.29],[1741.6,0.27],[1743.9,0.27],[1745.6,0.27],[1747.4,0.30],[1749.1,0.31],[1750.9,0.35],[1752.6,0.39],[1754.4,0.41],[1756.1,0.42],[1757.9,0.45],[1759.6,0.46],[1761.4,0.48],[1763.2,0.49],[1764.9,0.56],[1766.7,0.60],[1768.4,0.63],[1770.2,0.71],[1771.9,0.70],[1773.7,0.69],[1775.4,0.68],[1777.2,0.65],[1778.9,0.62],[1780.7,0.60],[1782.5,0.61],[1784.2,0.61],[1786,0.59],[1787.7,0.56],[1789.5,0.57],[1791.2,0.56],[1793,0.52],[1794.7,0.45],[1796.5,0.39],[1798.2,0.34],[1800,0.29],[1801.8,0.19],[1803.5,0.15],[1805.3,0.23],[1807,0.24],[1808.8,0.23],[1810.5,0.23],[1812.3,0.24],[1814,0.20],[1815.8,0.16],[1817.5,0.09],[1819.3,-0.05],[1821.1,-0.18],[1822.5,-0.26],[1824.2,-0.23],[1826,-0.25],[1827.7,0.00],[1829.5,0.08],[1831.2,0.02],[1833,0.05],[1834.7,0.04],[1836.5,0.00],[1838.2,-0.01],[1840,-0.04],[1841.8,-0.06],[1843.5,-0.11],[1845.3,-0.10],[1847,-0.06],[1848.8,0.03],[1850.5,0.11],[1852.3,0.16],[1854,0.19],[1855.8,0.24],[1857.5,0.28],[1859.3,0.24],[1861.1,0.29],[1862.8,0.30],[1864.6,0.31],[1866.3,0.37],[1868.1,0.34],[1869.8,0.37],[1871.6,0.41],[1873.3,0.45],[1875.1,0.41],[1876.8,0.37],[1878.6,0.30],[1880.4,0.29],[1882.1,0.26],[1883.9,0.23],[1885.6,0.24],[1887.4,0.26],[1889.1,0.25],[1890.9,0.19],[1892.6,0.24],[1894.4,0.25],[1896.1,0.27],[1897.9,0.29],[1899.6,0.32],[1901.4,0.29],[1903.2,0.34],[1904.9,0.37],[1906.7,0.41],[1908.4,0.46],[1910.2,0.49],[1911.9,0.47],[1913.7,0.54],[1915.4,0.55],[1917.2,0.54],[1918.9,0.54],[1920.7,0.55],[1922.5,0.54],[1924.2,0.51],[1926,0.52],[1927.7,0.51],[1929.5,0.52],[1931.2,0.45],[1933,0.49],[1934.7,0.46],[1936.5,0.54],[1938.2,0.54],[1940,0.52],[1941.8,0.53],[1943.5,0.52],[1945.3,0.54],[1947,0.53],[1948.8,0.53],[1950.5,0.52],[1952.3,0.51],[1954,0.49],[1955.8,0.51],[1957.5,0.49],[1959.3,0.51],[1961.1,0.49],[1962.8,0.51],[1964.6,0.51],[1966.3,0.47],[1968.1,0.47],[1969.8,0.48],[1971.6,0.48],[1973.3,0.51],[1975.1,0.51],[1976.8,0.49],[1978.6,0.45],[1980.4,0.41],[1982.1,0.37],[1983.9,0.39],[1985.6,0.45]];

// ---------- panel c ----------
const stoC = [[1515.3,0.40],[1518.3,0.40],[1519.3,0.33],[1520.6,0.38],[1521.8,0.35],[1523.2,0.38],[1524.6,0.37],[1525.8,0.35],[1527.1,0.27],[1528.5,0.35],[1529.9,0.34],[1531.1,0.35],[1532.3,0.34],[1533.4,0.40],[1535.1,0.38],[1536.4,0.32],[1537.6,0.26],[1539,0.27],[1539.9,0.15],[1541.1,0.10],[1542.5,0.08],[1544.3,0.02],[1546,0.00],[1547.8,0.00],[1549.6,-0.04],[1551.3,-0.08],[1552.7,-0.13],[1554,-0.10],[1555.7,-0.04],[1556.9,-0.05],[1558.3,0.04],[1559.8,0.02],[1561,-0.02],[1562.2,-0.07],[1563.6,-0.12],[1565,-0.19],[1566.3,-0.14],[1568,-0.10],[1569.8,0.02],[1571.5,0.00],[1573.3,0.07],[1575,0.11],[1576.8,0.09],[1578.6,0.15],[1580.3,0.15],[1581.5,0.21],[1583,0.24],[1584.4,0.26],[1585.6,0.19],[1587.3,0.19],[1588.8,0.03],[1590.5,0.04],[1592.6,0.08],[1594.4,0.07],[1596.1,0.08],[1597.9,0.15],[1599.6,0.19],[1601.4,0.21],[1603.2,0.26],[1604.9,0.23],[1606.7,0.32],[1608.4,0.31],[1610.2,0.32],[1612,0.33],[1613.7,0.30],[1615.5,0.26],[1617.2,0.27],[1619,0.32],[1620.7,0.36],[1622.5,0.38],[1624.3,0.43],[1626,0.41],[1627.8,0.37],[1629,0.18],[1630.8,0.11],[1632.5,0.05],[1634.3,0.02],[1636,0.02],[1637.8,0.02],[1639.2,0.01],[1641,0.05],[1642.7,0.08],[1644.5,0.08],[1645.9,0.09],[1647.1,0.15],[1648.3,0.23],[1649.7,0.14],[1651.1,0.23],[1652.4,0.11],[1654.1,0.04],[1655.9,-0.02],[1657.6,-0.01],[1659.4,0.07],[1661.2,0.14],[1662.9,0.13],[1664.7,0.22],[1666.4,0.35],[1668.2,0.32],[1669.9,0.37],[1671.7,0.26],[1673.5,0.30],[1675.2,0.35],[1677,0.34],[1678.7,0.31],[1680.5,0.27],[1682.2,0.27],[1684,0.35],[1685.8,0.34],[1687.5,0.37],[1689.3,0.35],[1691,0.35],[1692.8,0.32],[1694.6,0.29],[1696.3,0.20],[1698.1,0.18],[1699.8,0.11],[1701.6,0.13],[1703.3,0.07],[1705.1,0.08],[1706.9,0.04],[1708.6,-0.05],[1710.4,-0.08],[1712.1,-0.11],[1713.9,-0.19],[1715.6,-0.22],[1717.4,-0.20],[1718.3,-0.26],[1719.7,-0.10],[1721.4,-0.08],[1723.2,0.01],[1725,-0.07],[1726.7,-0.04],[1728.5,-0.05],[1730.2,-0.01],[1732,0.07],[1733.7,0.11],[1735.5,0.19],[1737.3,0.21],[1739.4,0.24],[1741.1,0.30],[1742.9,0.34],[1745.1,0.40],[1746.9,0.42],[1748.6,0.44],[1750.3,0.46],[1752.1,0.49],[1753.8,0.50],[1755.6,0.53],[1757.3,0.56],[1759.1,0.60],[1760.8,0.67],[1762.6,0.65],[1764.3,0.67],[1766.1,0.66],[1767.8,0.65],[1769.6,0.66],[1771.3,0.65],[1773,0.67],[1774.8,0.59],[1776.5,0.56],[1778.3,0.60],[1780,0.58],[1781.8,0.57],[1783.5,0.58],[1785.3,0.57],[1787,0.58],[1788.8,0.59],[1790.5,0.58],[1792.2,0.59],[1794,0.55],[1795.7,0.47],[1797.5,0.51],[1799.2,0.53],[1801,0.51],[1802.7,0.48],[1804.5,0.43],[1806.2,0.44],[1808,0.48],[1809.7,0.47],[1811.5,0.45],[1813.2,0.42],[1814.9,0.44],[1816.7,0.43],[1818.4,0.44],[1820.2,0.46],[1821.9,0.45],[1823.7,0.49],[1825.4,0.52],[1827.2,0.51],[1828.9,0.48],[1830.7,0.47],[1832.4,0.49],[1834.1,0.51],[1835.9,0.52],[1837.6,0.52],[1839.4,0.55],[1841.1,0.57],[1842.9,0.60],[1844.3,0.66],[1845.5,0.62],[1847.2,0.62],[1849,0.57],[1850.7,0.54],[1852.5,0.49],[1854.2,0.49],[1856,0.49],[1857.7,0.40],[1859.5,0.44],[1861.2,0.45],[1863,0.45],[1864.7,0.46],[1866.4,0.45],[1867.3,0.24],[1869.1,0.23],[1870.8,0.20],[1872.6,0.15],[1874.3,0.19],[1876,0.19],[1877.8,0.18],[1879.5,0.15],[1881.3,0.18],[1883,0.20],[1884.8,0.21],[1886.5,0.23],[1888.3,0.25],[1890,0.33],[1891.8,0.35],[1893.5,0.34],[1895.3,0.31],[1897,0.24],[1897.9,0.22],[1898.4,0.58],[1900.1,0.55],[1901.9,0.60],[1903.6,0.62],[1905.4,0.60],[1907.1,0.62],[1908.9,0.64],[1910.6,0.69],[1912.4,0.66],[1914.1,0.67],[1915.9,0.63],[1917.6,0.59],[1919.3,0.55],[1921.1,0.53],[1922.8,0.51],[1924.2,0.48],[1925.8,0.54],[1927.5,0.60],[1929.3,0.58],[1931,0.59],[1932.8,0.60],[1934.5,0.62],[1936.3,0.60],[1938,0.62],[1939.8,0.59],[1941.5,0.58],[1943.3,0.62],[1945,0.62],[1946.8,0.64],[1948.5,0.63],[1950.2,0.64],[1952,0.65],[1953.7,0.65],[1955.5,0.64],[1957.2,0.65],[1959,0.71],[1960.7,0.70],[1962.5,0.68],[1964.2,0.67],[1966,0.67],[1967.7,0.66],[1969.5,0.67],[1971.2,0.66],[1972.9,0.67],[1974.7,0.68],[1976.4,0.68],[1978.2,0.68],[1979.9,0.67],[1981.7,0.67],[1983.4,0.68],[1985.2,0.68],[1986.9,0.67],[1988.7,0.67],[1990.4,0.65],[1992.1,0.67]];

const ceuC = [[1515.3,0.13],[1517,0.11],[1518.8,0.04],[1520.6,0.07],[1522.3,0.15],[1524.1,0.16],[1525.8,0.18],[1527.6,0.20],[1528.8,0.16],[1530.2,0.20],[1531.6,0.12],[1532.9,0.13],[1534.6,0.12],[1535.9,0.18],[1536.9,-0.02],[1538.1,-0.02],[1539.4,0.07],[1540.8,0.13],[1542.5,0.10],[1544.3,0.12],[1546,0.09],[1547.8,0.08],[1549.6,0.07],[1551.3,0.04],[1553.1,0.06],[1554.8,0.08],[1556.6,0.09],[1558.3,0.20],[1560.1,0.18],[1561.9,0.13],[1563.6,0.14],[1565.4,0.16],[1567.1,0.18],[1568.9,0.23],[1570.7,0.32],[1572.1,0.37],[1573.8,0.35],[1575,0.40],[1576.8,0.35],[1578.6,0.41],[1580.3,0.43],[1582.1,0.45],[1583.8,0.44],[1585.6,0.44],[1587.3,0.40],[1588.6,0.23],[1590,0.23],[1591.7,0.18],[1593.5,0.15],[1595.3,0.15],[1597,0.19],[1598.8,0.23],[1600.5,0.15],[1601.9,-0.07],[1603.7,-0.05],[1605.4,-0.03],[1606.7,0.02],[1608.4,0.04],[1610.2,-0.05],[1612,-0.04],[1613.7,-0.03],[1615.5,-0.03],[1617.2,-0.02],[1619,-0.03],[1620.2,0.01],[1621.6,-0.01],[1623.4,-0.07],[1625.1,0.03],[1626.9,0.07],[1628.6,0.04],[1630.1,-0.08],[1631.8,0.07],[1633.6,0.12],[1635.3,0.07],[1637.1,0.07],[1638.8,0.05],[1640.1,-0.01],[1641.3,0.15],[1643.1,0.18],[1644.8,0.16],[1646.6,0.21],[1647.6,0.33],[1648.9,0.41],[1650.6,0.40],[1652.4,0.42],[1654.1,0.38],[1655.4,0.44],[1656.8,0.43],[1658.5,0.36],[1660.3,0.37],[1662,0.36],[1663.4,0.41],[1664.7,0.49],[1666.4,0.53],[1668.2,0.52],[1669.4,0.56],[1670.8,0.52],[1672.6,0.53],[1674.3,0.52],[1676.1,0.55],[1677.9,0.49],[1679.6,0.42],[1681.4,0.43],[1683.1,0.45],[1684.9,0.44],[1686.6,0.43],[1688.4,0.45],[1690.2,0.47],[1691.9,0.48],[1693.7,0.33],[1695.4,0.29],[1697.2,0.25],[1698.9,0.20],[1700.7,0.23],[1702.5,0.22],[1704.2,0.23],[1706,0.27],[1707.7,0.26],[1709.5,0.27],[1711.2,0.27],[1713,0.15],[1714.8,0.02],[1716.5,0.01],[1718.3,0.07],[1720,0.08],[1721.8,0.04],[1723.6,0.11],[1725,0.05],[1726.7,0.07],[1728.5,-0.02],[1730.2,-0.08],[1732,-0.10],[1733.7,-0.04],[1735.5,0.00],[1737.3,0.00],[1739,-0.02],[1740.8,0.05],[1742.5,0.07],[1745.1,0.20],[1746.9,0.21],[1748.6,0.25],[1750.3,0.18],[1752.1,0.27],[1753.8,0.35],[1755.6,0.42],[1757.3,0.35],[1759.1,0.31],[1760.8,0.48],[1762.6,0.46],[1764.3,0.45],[1766.1,0.42],[1767.8,0.43],[1769.6,0.48],[1771.3,0.42],[1773,0.37],[1774.8,0.26],[1776.5,0.23],[1778.3,0.26],[1780,0.26],[1781.8,0.29],[1783.5,0.27],[1785.3,0.32],[1787,0.31],[1788.8,0.35],[1790.5,0.40],[1792.2,0.34],[1794,0.35],[1795.7,0.37],[1797.5,0.38],[1799.2,0.36],[1801,0.34],[1802.7,0.34],[1804.5,0.42],[1806.2,0.44],[1808,0.49],[1809.7,0.47],[1811.5,0.46],[1813.2,0.47],[1814.9,0.46],[1816.7,0.42],[1818.4,0.32],[1820.2,0.42],[1821.9,0.44],[1823.7,0.45],[1825.4,0.49],[1827.2,0.51],[1828.9,0.52],[1830.7,0.52],[1832.4,0.51],[1834.1,0.52],[1835.9,0.51],[1837.6,0.48],[1839.4,0.45],[1841.1,0.37],[1842.9,0.32],[1844.6,0.31],[1846.3,0.37],[1848.1,0.41],[1849.8,0.35],[1851.6,0.32],[1853.3,0.36],[1855.1,0.41],[1856.8,0.43],[1858.6,0.31],[1860.3,0.24],[1862.1,0.19],[1863.8,0.12],[1864.7,0.11],[1865.6,0.01],[1866.4,0.02],[1867.3,0.13],[1869.1,0.15],[1870.8,0.19],[1872.6,0.18],[1874.3,0.24],[1876,0.25],[1877.8,0.22],[1879.5,0.30],[1881.3,0.31],[1883,0.29],[1884.8,0.27],[1886.5,0.25],[1888.3,0.30],[1890,0.35],[1891.8,0.36],[1893.5,0.35],[1895.3,0.40],[1897,0.45],[1898.7,0.37],[1900.5,0.40],[1902.2,0.32],[1904,0.33],[1905.7,0.37],[1907.5,0.43],[1909.2,0.46],[1910.6,0.49],[1911.8,0.36],[1913.6,0.35],[1915.3,0.36],[1917.1,0.35],[1918.8,0.33],[1920.6,0.34],[1921.8,0.24],[1923.2,0.31],[1924.9,0.40],[1926.7,0.46],[1928.4,0.51],[1930.2,0.52],[1931.9,0.58],[1933.7,0.55],[1935.4,0.54],[1937.2,0.52],[1938.9,0.49],[1940.6,0.46],[1942.4,0.49],[1944.1,0.48],[1945.9,0.49],[1947.6,0.55],[1949.4,0.58],[1951.1,0.63],[1952.9,0.65],[1954.6,0.64],[1956.4,0.65],[1958.1,0.66],[1959.8,0.64],[1961.6,0.66],[1963.3,0.63],[1965.1,0.59],[1966.8,0.59],[1968.6,0.58],[1970.3,0.59],[1972.1,0.60],[1973.8,0.57],[1975.6,0.65],[1977.3,0.68],[1979,0.68],[1980.8,0.59],[1982.5,0.60],[1984.3,0.59],[1986,0.53],[1987.8,0.54],[1989.5,0.60],[1990.9,0.60],[1992.1,0.62]];

// ---------- panel d ----------
const stoD = [[1550.4,0.24],[1551.8,0.21],[1553.5,0.23],[1555.3,0.17],[1556.7,0.13],[1557.9,0.11],[1559.1,0.12],[1560.5,0.07],[1561.9,0.06],[1563.2,0.08],[1564.4,0.06],[1565.8,0.12],[1567.2,0.07],[1568.9,0.07],[1570.7,0.06],[1572.5,0.05],[1574.2,0.04],[1576,0.04],[1577.7,0.04],[1579.5,0.01],[1581.2,0.00],[1583.3,-0.02],[1585.1,-0.03],[1588.6,-0.04],[1590.4,-0.05],[1592.1,-0.03],[1595.6,-0.04],[1599.1,-0.04],[1602.6,-0.03],[1606.1,-0.04],[1609.6,-0.04],[1613.2,-0.03],[1616.7,-0.04],[1620.2,-0.04],[1623.7,-0.04],[1627.2,-0.05],[1630.7,-0.04],[1634.2,-0.04],[1637.7,-0.03],[1641.2,-0.02],[1646.5,-0.02],[1650,-0.03],[1655.3,-0.02],[1657,0.00],[1658.8,0.01],[1660.5,0.03],[1662.3,0.04],[1664,0.05],[1665.8,0.06],[1667.5,0.05],[1669.3,0.06],[1671.1,0.05],[1672.8,0.02],[1674.6,0.00],[1676.3,-0.01],[1678.1,-0.02],[1681.6,-0.03],[1685.1,-0.04],[1686.8,0.00],[1688.6,0.01],[1690.4,0.00],[1692.1,0.01],[1693.9,-0.02],[1695.6,-0.03],[1697.4,-0.03],[1699.1,0.00],[1700.9,0.00],[1702.6,-0.02],[1704.4,0.01],[1706.1,0.02],[1707.9,0.04],[1709.6,0.05],[1713.2,0.05],[1714.9,0.02],[1716.7,0.07],[1718.4,0.12],[1720.2,0.08],[1721.9,0.07],[1723.7,0.06],[1727.2,0.07],[1730.7,0.08],[1734.2,0.08],[1736,0.09],[1739.5,0.11],[1741.2,0.14],[1743,0.15],[1744.7,0.17],[1746.5,0.18],[1748.2,0.17],[1750,0.18],[1752.1,0.18],[1753.8,0.17],[1755.6,0.17],[1757.3,0.16],[1759.1,0.15],[1760.8,0.15],[1762.6,0.14],[1764.3,0.12],[1766,0.14],[1767.8,0.13],[1769.5,0.14],[1771.3,0.15],[1773,0.14],[1774.8,0.17],[1776.5,0.15],[1778.2,0.15],[1780,0.14],[1781.7,0.14],[1783.5,0.13],[1785.2,0.13],[1787,0.12],[1788.7,0.12],[1790.4,0.12],[1792.2,0.12],[1793.9,0.12],[1795.7,0.11],[1797.4,0.12],[1799.2,0.11],[1800.9,0.11],[1802.6,0.11],[1804.4,0.11],[1806.1,0.10],[1807.9,0.09],[1809.6,0.09],[1811.4,0.08],[1813.1,0.09],[1814.9,0.07],[1816.6,0.07],[1818.3,0.07],[1820.1,0.05],[1821.8,0.07],[1823.6,0.09],[1825.3,0.09],[1827.1,0.07],[1828.8,0.07],[1830.5,0.04],[1832.3,0.06],[1834,0.08],[1835.8,0.05],[1837.5,0.03],[1839.3,0.01],[1841,0.02],[1842.7,0.03],[1844.5,0.04],[1846.2,0.05],[1848,0.05],[1849.7,0.05],[1851.5,0.06],[1853.2,0.07],[1854.9,0.07],[1856.7,0.08],[1858.4,0.09],[1860.2,0.09],[1861.9,0.11],[1863.7,0.13],[1865.4,0.14],[1867.2,0.15],[1868.9,0.15],[1870.6,0.17],[1872.4,0.17],[1875.9,0.17],[1879.4,0.17],[1882.8,0.17],[1884.6,0.18],[1886.3,0.17],[1888.1,0.18],[1889.8,0.16],[1891.6,0.19],[1893.3,0.17],[1895,0.18],[1896.8,0.16],[1898.5,0.15],[1900.3,0.12],[1902,0.11],[1903.8,0.09],[1905.5,0.06],[1907.3,0.04],[1909,0.01],[1910.7,0.02],[1912.1,-0.04],[1913.4,0.02],[1915.1,0.05],[1916.8,0.02],[1918.6,0.00],[1922.1,0.00],[1923.8,0.00],[1925.6,-0.02],[1927.3,-0.03],[1929,-0.02],[1930.8,-0.03],[1932.5,0.00],[1934.3,0.02],[1936,0.00],[1937.8,-0.01],[1939.5,0.06],[1941.3,0.11],[1943,0.14],[1944.7,0.17],[1946.5,0.20],[1948.2,0.22],[1951.7,0.22],[1953.5,0.23],[1957.5,0.23]];

const ceuD = [[1550.4,0.25],[1551.8,0.23],[1553.5,0.20],[1555.3,0.16],[1557,0.17],[1558.8,0.16],[1560.5,0.18],[1562.3,0.14],[1564,0.18],[1565.8,0.16],[1567.5,0.15],[1569.3,0.17],[1571.1,0.14],[1572.8,0.13],[1574.6,0.11],[1576.3,0.11],[1578.1,0.09],[1579.8,0.09],[1581.6,0.08],[1583.3,0.06],[1586.8,0.05],[1590.4,0.04],[1593.9,0.03],[1597.4,0.02],[1600.9,0.01],[1604.4,0.01],[1607.9,0.01],[1609.6,0.00],[1611.4,0.01],[1613.2,0.02],[1616.7,0.04],[1618.4,0.03],[1620.2,0.02],[1623.7,0.02],[1625.4,0.03],[1627.2,0.02],[1628.9,0.01],[1630.7,0.00],[1632.5,-0.01],[1634.2,0.00],[1636,-0.01],[1637.7,-0.03],[1639.5,-0.04],[1643,-0.04],[1646.5,-0.03],[1650,-0.02],[1653.5,-0.04],[1655.3,-0.03],[1657,0.00],[1658.8,0.00],[1660.5,-0.03],[1662.3,-0.06],[1664,-0.08],[1665.8,-0.12],[1667.5,-0.14],[1669.3,-0.17],[1671.1,-0.20],[1672.8,-0.23],[1674.6,-0.26],[1676.3,-0.29],[1678.1,-0.30],[1679.8,-0.30],[1681.6,-0.29],[1683.3,-0.27],[1685.1,-0.23],[1686.8,-0.22],[1688.6,-0.20],[1690.4,-0.19],[1692.1,-0.16],[1693.9,-0.11],[1695.6,-0.07],[1697.4,-0.05],[1699.1,-0.03],[1700.9,-0.02],[1702.6,0.00],[1704.4,0.04],[1706.1,0.04],[1707.9,0.05],[1709.6,0.08],[1710.5,0.11],[1711.8,0.07],[1713.2,0.03],[1714.9,0.05],[1716.7,0.08],[1718.4,0.12],[1720.2,0.13],[1723.7,0.13],[1725.4,0.12],[1727.2,0.13],[1730.7,0.13],[1734.2,0.13],[1736,0.15],[1737.7,0.17],[1739.5,0.19],[1741.2,0.18],[1743,0.19],[1746.5,0.19],[1750,0.18],[1752.1,0.18],[1753.8,0.17],[1755.6,0.13],[1757.3,0.07],[1759.1,0.04],[1760.8,0.04],[1762.6,0.04],[1764.3,0.04],[1766,0.04],[1767.8,0.03],[1769.5,0.04],[1771.3,0.04],[1773,0.05],[1774.8,0.06],[1776.5,0.06],[1778.2,0.04],[1780,0.04],[1781.7,0.03],[1783.5,0.02],[1785.2,0.01],[1787,0.00],[1788.7,-0.01],[1790.4,-0.02],[1792.2,-0.03],[1793.9,-0.05],[1795,-0.07],[1796.5,-0.05],[1798.3,-0.05],[1800,-0.05],[1801.8,-0.05],[1803.5,-0.05],[1805.3,-0.05],[1807,-0.04],[1808.8,-0.03],[1810.5,-0.01],[1812.2,0.00],[1813.1,0.06],[1814.9,0.07],[1816.6,0.07],[1818.3,0.06],[1820.1,0.06],[1821.8,0.04],[1823.6,0.08],[1825.3,0.09],[1827.1,0.08],[1828.8,0.07],[1829.7,0.11],[1831.4,0.09],[1833.2,0.11],[1834.9,0.08],[1836.6,0.05],[1838.4,0.03],[1840.1,0.02],[1841.9,0.04],[1843.6,0.06],[1845.4,0.07],[1847.1,0.09],[1848.8,0.11],[1850.6,0.11],[1852.3,0.11],[1854.1,0.12],[1855.8,0.13],[1857.6,0.13],[1859.3,0.14],[1861,0.15],[1862.8,0.16],[1864.5,0.17],[1866.3,0.17],[1868,0.17],[1869.8,0.15],[1871.5,0.17],[1875,0.17],[1878.5,0.17],[1880.2,0.16],[1882,0.16],[1883.7,0.15],[1885.5,0.15],[1887.2,0.14],[1888.9,0.05],[1890.7,0.11],[1892.4,0.15],[1894.2,0.11],[1895.9,0.09],[1897.7,0.11],[1899.4,0.08],[1901.2,0.05],[1902.9,0.02],[1904.6,-0.02],[1906.4,0.01],[1908.1,0.01],[1909.9,0.01],[1911.6,0.03],[1913.4,0.04],[1915.1,0.06],[1916.8,0.06],[1918.6,0.07],[1920.3,0.08],[1922.1,0.09],[1923.8,0.05],[1925.6,0.04],[1927.3,0.04],[1929,0.04],[1930.8,0.05],[1932.5,0.05],[1934.3,0.11],[1936,0.04],[1937.8,0.00],[1939.5,0.05],[1941.3,0.11],[1943,0.14],[1944.7,0.16],[1946.5,0.18],[1948.2,0.18],[1950,0.18],[1951.7,0.19],[1953.5,0.20],[1955.2,0.19],[1957.5,0.19]];

// ---------- series / legend definitions ----------
const C = {djf:"#3f7cff", mam:"#b8862b", jfma:"#8e1f8e", jja:"#ff1414", son:"#1ee4ee", sto:"#ff2eff", ceu:"#2a8c2a"};

const panels = [
  {letter:"a", plotTop:18, plotBottom:323, left:103, right:1100, xMax:2009, ldx:16, ldy:14, thr:thresholds[0],
   series:[{name:"DJF",data:djfA,color:C.djf},{name:"MAM",data:mamA,color:C.mam},{name:"JFMA",data:jfmaA,color:C.jfma}],
   legend:[{name:"DJF",color:C.djf,x1:720,x2:767,tx:774,y:280},{name:"MAM",color:C.mam,x1:829,x2:877,tx:884,y:280},{name:"JFMA",color:C.jfma,x1:952,x2:1000,tx:1006,y:280}]},
  {letter:"b", plotTop:384, plotBottom:693, left:102, right:1098, xMax:2009, ldx:12, ldy:9, thr:thresholds[1],
   series:[{name:"DJF",data:djfB,color:C.djf},{name:"MAM",data:mamB,color:C.mam},{name:"JJA",data:jjaB,color:C.jja},{name:"SON",data:sonB,color:C.son}],
   legend:[{name:"DJF",color:C.djf,x1:657,x2:704,tx:711,y:626},{name:"MAM",color:C.mam,x1:762,x2:809,tx:816,y:626},{name:"JJA",color:C.jja,x1:879,x2:926,tx:932,y:626},{name:"SON",color:C.son,x1:984,x2:1031,tx:1037,y:626}]},
  {letter:"c", plotTop:751, plotBottom:1056, left:103, right:1100, xMax:2009, ldx:14, ldy:11, thr:thresholds[2],
   series:[{name:"Stockholm",data:stoC,color:C.sto},{name:"CEuT",data:ceuC,color:C.ceu}],
   legend:[{name:"Stockholm",color:C.sto,x1:917,x2:964,tx:976,y:976},{name:"CEuT",color:C.ceu,x1:917,x2:964,tx:976,y:1008}]},
  {letter:"d", plotTop:1116, plotBottom:1420, left:102, right:1100, xMax:2009, ldx:15, ldy:15, thr:thresholds[3],
   series:[{name:"Stockholm",data:stoD,color:C.sto},{name:"CEuT",data:ceuD,color:C.ceu}],
   legend:[{name:"Stockholm",color:C.sto,x1:913,x2:960,tx:972,y:1324},{name:"CEuT",color:C.ceu,x1:913,x2:960,tx:972,y:1356}]}
];

const wrap = document.getElementById("wrap");
const FONT = "'Liberation Sans', Arial, Helvetica, sans-serif";

for (const p of panels) {
  const svgTop = p.plotTop - 18;
  const bottomMargin = 46;
  const height = (p.plotBottom - svgTop) + bottomMargin;
  const chart = Plot.plot({
    width: 1116,
    height,
    marginTop: 18,
    marginBottom: bottomMargin,
    marginLeft: p.left,
    marginRight: 1116 - p.right,
    x: {domain: [1500, p.xMax]},
    y: {domain: [-1, 1]},
    style: {fontFamily: FONT, fontSize: "20px", color: "#1a1a1a", background: "transparent", overflow: "visible"},
    marks: [
      Plot.ruleY([p.thr], {stroke: "#8e8e8e", strokeWidth: 1.5}),
      Plot.ruleY([0], {stroke: "#8e8e8e", strokeWidth: 1.5, strokeDasharray: "12,8"}),
      ...p.series.map(s => Plot.line(s.data, {x: d => d[0], y: d => d[1], stroke: s.color, strokeWidth: 1.5})),
      Plot.axisX(xTicks, {tickSize: 6, tickFormat: () => "", label: null, stroke: "#333"}),
      Plot.axisX(xLabels, {tickSize: 0, tickPadding: 25, tickFormat: d => String(d), label: null, fontSize: 20}),
      Plot.axisY(yTicks, {tickSize: 4, tickPadding: 16, tickFormat: d => d.toFixed(1), label: null, fontSize: 20, stroke: "#333"}),
      Plot.frame({stroke: "#444", strokeWidth: 1.6}),
      Plot.text([p.letter], {text: d => d, frameAnchor: "top-left", dx: p.ldx, dy: p.ldy, textAnchor: "start", lineAnchor: "top", fontWeight: "bold", fontSize: 22, fill: "#111"})
    ]
  });
  chart.style.top = svgTop + "px";
  wrap.appendChild(chart);

  for (const it of p.legend) {
    const sw = document.createElement("div");
    sw.className = "sw";
    sw.style.left = it.x1 + "px";
    sw.style.width = (it.x2 - it.x1) + "px";
    sw.style.top = (it.y - 1) + "px";
    sw.style.background = it.color;
    wrap.appendChild(sw);
    const t = document.createElement("div");
    t.className = "leg";
    t.textContent = it.name;
    t.style.left = it.tx + "px";
    t.style.top = (it.y - 10) + "px";
    wrap.appendChild(t);
  }
}

// axis titles
const yt = document.createElement("div");
yt.className = "ttl";
yt.textContent = "Correlation coefficient";
yt.style.left = "22px";
yt.style.top = "738px";
yt.style.transform = "translate(-50%,-50%) rotate(-90deg)";
wrap.appendChild(yt);

const xt = document.createElement("div");
xt.className = "ttl";
xt.textContent = "Year";
xt.style.left = "608px";
xt.style.top = "1481px";
xt.style.transform = "translate(-50%,-50%)";
wrap.appendChild(xt);
</script>
</body></html>
